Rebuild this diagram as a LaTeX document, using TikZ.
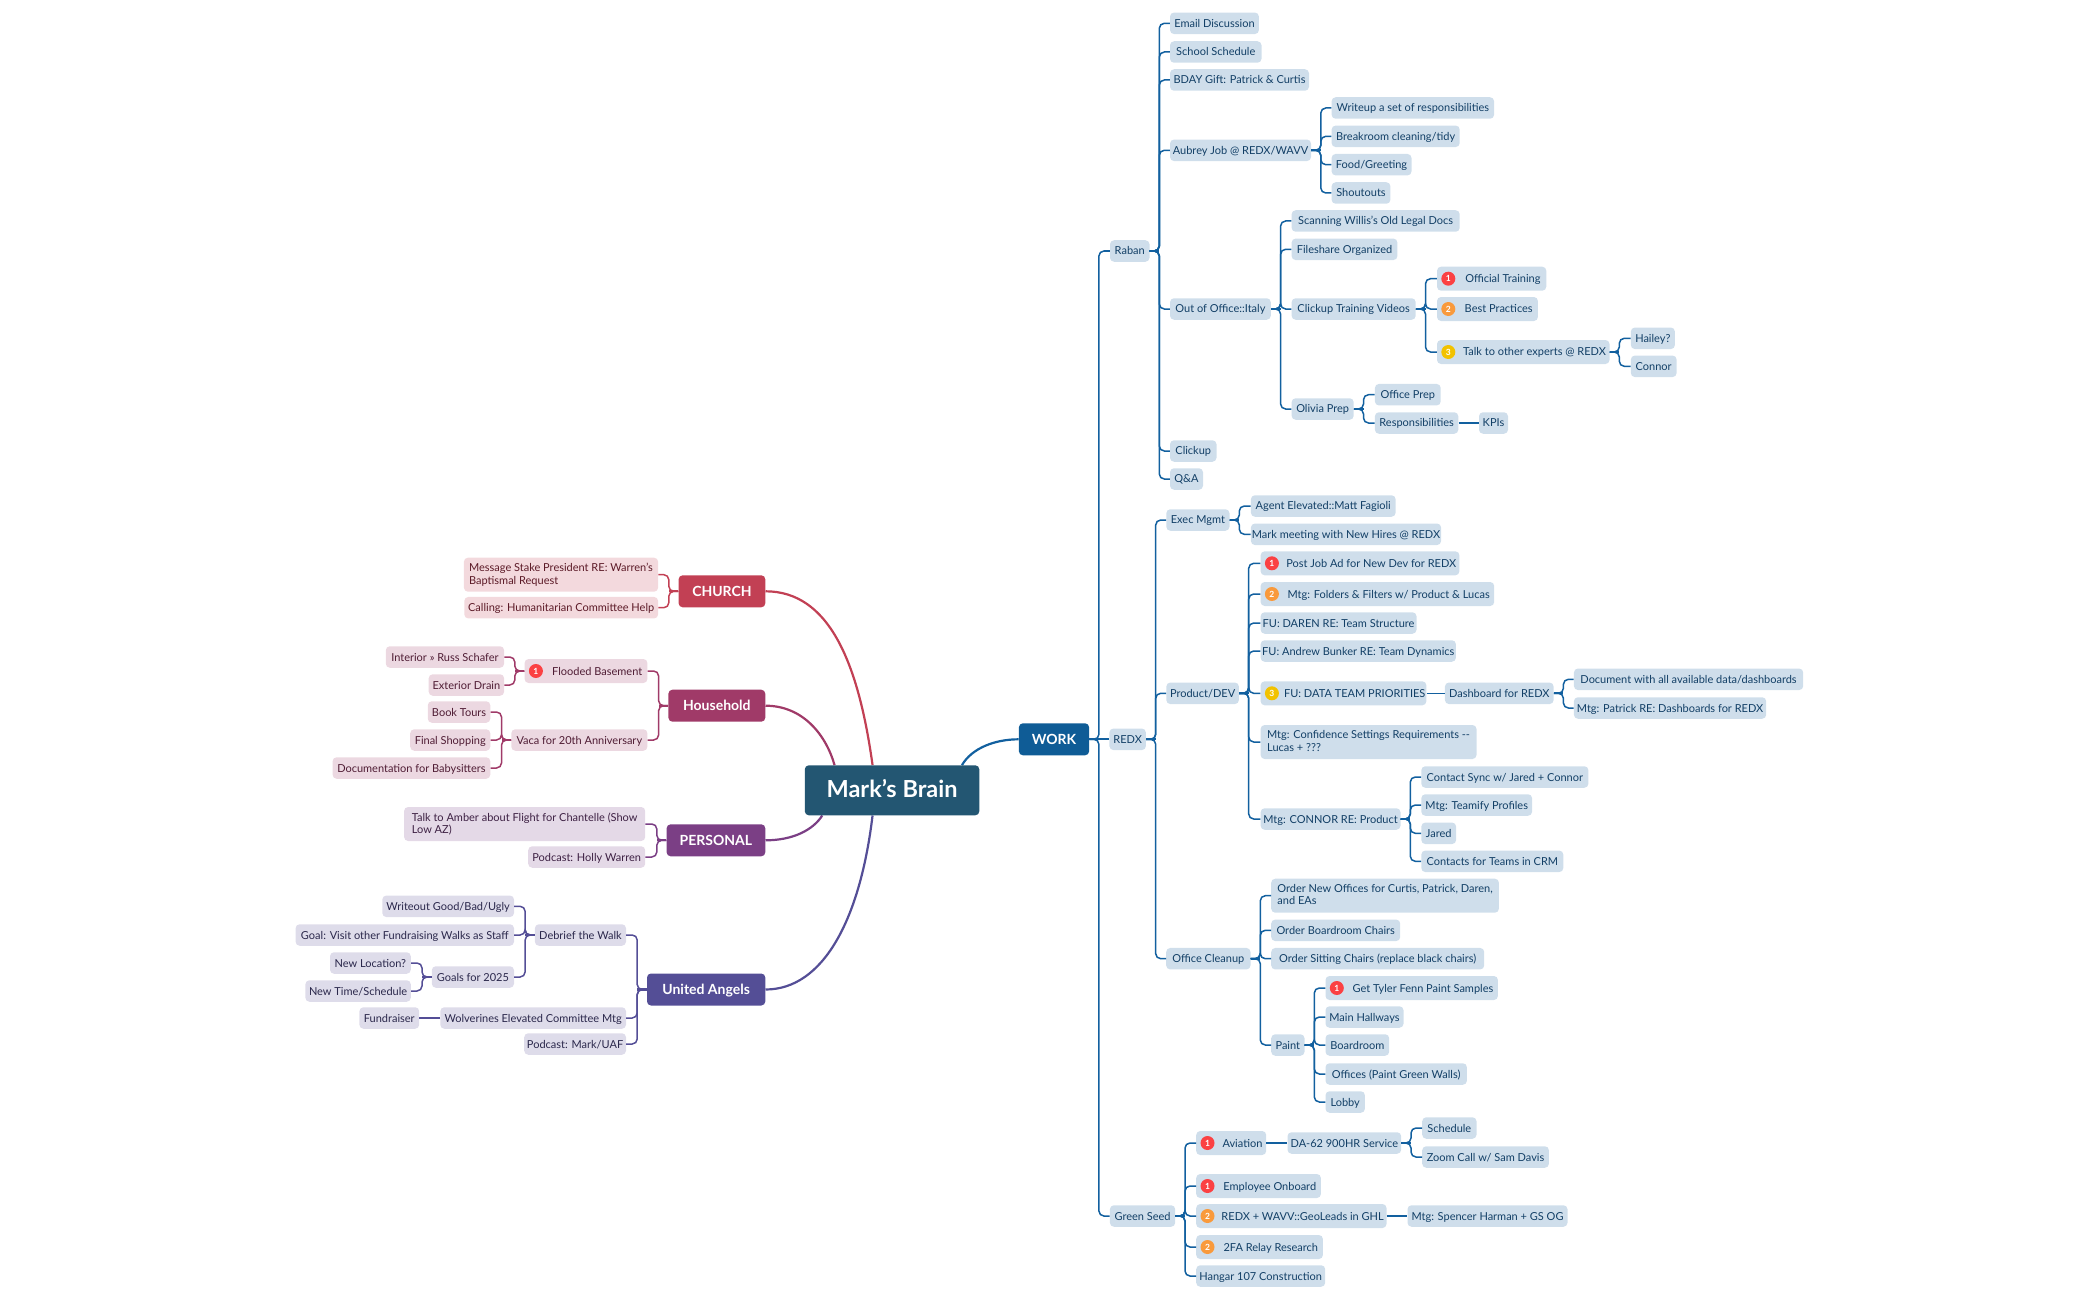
\documentclass[tikz,border=0pt]{standalone}
\usepackage{fontspec}
\setmainfont{Lato}
\usetikzlibrary{backgrounds}

\definecolor{rootfill}{HTML}{235672}
\definecolor{workfill}{HTML}{0F5C96}
\definecolor{workleaf}{HTML}{CFDEEB}
\definecolor{worktext}{HTML}{123F66}
\definecolor{workline}{HTML}{12609F}
\definecolor{churchfill}{HTML}{C24054}
\definecolor{churchleaf}{HTML}{F3D9DD}
\definecolor{churchtext}{HTML}{5C1A27}
\definecolor{housefill}{HTML}{A03A68}
\definecolor{houseleaf}{HTML}{ECD8E1}
\definecolor{housetext}{HTML}{4F1C34}
\definecolor{personfill}{HTML}{7B3F85}
\definecolor{personleaf}{HTML}{E4D9E7}
\definecolor{persontext}{HTML}{3D2043}
\definecolor{angelfill}{HTML}{544E96}
\definecolor{angelleaf}{HTML}{DEDCEA}
\definecolor{angeltext}{HTML}{2A274B}
\definecolor{prioone}{HTML}{FB4143}
\definecolor{priotwo}{HTML}{F99A3C}
\definecolor{priothree}{HTML}{F2C200}

\tikzset{
    x=1pt, y=-1pt,
    leaf/.style={rectangle, rounded corners=4pt, inner xsep=1pt, inner ysep=0pt, minimum height=21.5pt,
        align=left, font=\fontsize{11}{12.3}\selectfont,
        execute at begin node={\rule{0pt}{10pt}}, execute at end node={\vphantom{g}}},
    w/.style={minimum width=#1pt},
    hi/.style={minimum height=#1pt},
    wk/.style={leaf, anchor=west, fill=workleaf, text=worktext},
    ch/.style={leaf, anchor=east, fill=churchleaf, text=churchtext},
    hh/.style={leaf, anchor=east, fill=houseleaf, text=housetext},
    pe/.style={leaf, anchor=east, fill=personleaf, text=persontext},
    ua/.style={leaf, anchor=east, fill=angelleaf, text=angeltext},
    maintopic/.style={rectangle, rounded corners=4pt, inner sep=0pt, minimum height=32pt, text=white,
        text height=10pt, text depth=0pt, font=\fontsize{14}{16}\selectfont\bfseries},
    roottopic/.style={maintopic, minimum height=50pt, fill=rootfill, text height=17pt, text depth=2pt,
        font=\fontsize{23.5}{28}\selectfont\bfseries},
    prioicon/.style={circle, inner sep=0pt, minimum size=14pt, text=white, font=\fontsize{8.5}{9}\selectfont\bfseries},
    twig/.style={draw=brcol, line width=1.5pt, rounded corners=5pt},
    stem/.style={draw=brcol, line width=2.2pt},
    arc/.style={line width=2.2pt},
}
\newcommand{\pad}{\hspace*{22.5pt}}
\newcommand{\kidsr}[2]{%
    \draw[stem] (#1.east) -- ++(9.6,0);
    \foreach \kid in {#2} \draw[twig] (#1.east) -- ++(9.6,0) |- (\kid.west);
}
\newcommand{\kidsl}[2]{%
    \draw[stem] (#1.west) -- ++(-9.6,0);
    \foreach \kid in {#2} \draw[twig] (#1.west) -- ++(-9.6,0) |- (\kid.east);
}

\begin{document}
\begin{tikzpicture}
    \useasboundingbox (0,0) rectangle (2099,1300);

    \node[roottopic, w=174.5] (brain) at (892.05,790.3) {Mark's Brain};

    % topics
    \node[maintopic, anchor=west, w=70.2, fill=workfill] (work) at (1018.7,739.3) {WORK};
    \node[maintopic, anchor=east, w=86.7, fill=churchfill] (church) at (765.5,591.3) {CHURCH};
    \node[maintopic, anchor=east, w=96.9, fill=housefill] (household) at (765.5,705.7) {Household};
    \node[maintopic, anchor=east, w=98.7, fill=personfill] (personal) at (765.5,840.3) {PERSONAL};
    \node[maintopic, anchor=east, w=118.3, fill=angelfill] (angels) at (765.5,989.5) {United Angels};

    % Raban
    \node[wk, w=39.5] (raban) at (1109.8,251) {Raban};
    \node[wk, w=88.9] (email) at (1169.8,23.3) {Email Discussion};
    \node[wk, w=91.5] (school) at (1169.8,52) {School Schedule};
    \node[wk, w=139] (bday) at (1169.8,80) {BDAY Gift: Patrick \& Curtis};
    \node[wk, w=141] (aubrey) at (1169.8,150.3) {Aubrey Job @ REDX/WAVV};
    \node[wk, w=162.5] (writeup) at (1331.4,108) {Writeup a set of responsibilities};
    \node[wk, w=128.1] (breakroom) at (1331.4,136.3) {Breakroom cleaning/tidy};
    \node[wk, w=79.9] (food) at (1331.4,164.7) {Food/Greeting};
    \node[wk, w=58.8] (shoutouts) at (1331.4,193) {Shoutouts};
    \node[wk, w=100.8] (outoffice) at (1169.8,309) {Out of Office::Italy};
    \node[wk, w=168.1] (scanning) at (1291.4,221) {Scanning Willis's Old Legal Docs};
    \node[wk, w=105.8] (fileshare) at (1291.4,249.3) {Fileshare Organized};
    \node[wk, w=124.1] (videos) at (1291.4,309) {Clickup Training Videos};
    \node[wk, w=109.3, hi=24] (official) at (1436.8,278.7) {\pad Official Training};
    \node[wk, w=100.9, hi=24] (practices) at (1436.8,309) {\pad Best Practices};
    \node[wk, w=172.5, hi=24] (experts) at (1436.8,352) {\pad Talk to other experts @ REDX};
    \node[wk, w=44.1] (hailey) at (1630.6,338.3) {Hailey?};
    \node[wk, w=45.8] (connor) at (1630.6,366.3) {Connor};
    \node[wk, w=62.1] (olivia) at (1291.4,409) {Olivia Prep};
    \node[wk, w=65.8] (officeprep) at (1374.7,394.7) {Office Prep};
    \node[wk, w=83.4] (resp) at (1374.7,423) {Responsibilities};
    \node[wk, w=29] (kpis) at (1478.8,423) {KPIs};
    \node[wk, w=46.5] (clickup) at (1169.8,451) {Clickup};
    \node[wk, w=33] (qa) at (1169.8,479) {Q\&A};

    % REDX
    \node[wk, w=36.5] (redx) at (1109.2,739.3) {REDX};
    \node[wk, w=63.2] (exec) at (1166.1,520) {Exec Mgmt};
    \node[wk, w=144.7] (agent) at (1250.7,506) {Agent Elevated::Matt Fagioli};
    \node[wk, w=189.6] (hires) at (1250.7,534.3) {Mark meeting with New Hires @ REDX};
    \node[wk, w=72.6] (product) at (1166.1,693.3) {Product/DEV};
    \node[wk, w=198.8, hi=24] (jobad) at (1260.4,563.3) {\pad Post Job Ad for New Dev for REDX};
    \node[wk, w=233.6, hi=24] (folders) at (1260.4,594) {\pad Mtg: Folders \& Filters w/ Product \& Lucas};
    \node[wk, w=155.9] (daren) at (1260.4,623) {FU: DAREN RE: Team Structure};
    \node[wk, w=195.3] (andrew) at (1260.4,651) {FU: Andrew Bunker RE: Team Dynamics};
    \node[wk, w=162.9, hi=24] (dataprio) at (1260.4,693.3) {\pad FU: DATA TEAM PRIORITIES};
    \node[wk, w=108.7] (dashboard) at (1444.7,693.3) {Dashboard for REDX};
    \node[wk, w=229.3] (alldata) at (1573.7,679.3) {Document with all available data/dashboards};
    \node[wk, w=192.3] (patrick) at (1573.7,708) {Mtg: Patrick RE: Dashboards for REDX};
    \node[wk, w=215.9, hi=34] (confidence) at (1260.4,742) {Mtg: Confidence Settings Requirements -{}-\\Lucas + ???};
    \node[wk, w=139.9] (connormtg) at (1260.4,819) {Mtg: CONNOR RE: Product};
    \node[wk, w=167.1] (sync) at (1421.1,777) {Contact Sync w/ Jared + Connor};
    \node[wk, w=110.8] (teamify) at (1421.1,805) {Mtg: Teamify Profiles};
    \node[wk, w=34.8] (jared) at (1421.1,833.3) {Jared};
    \node[wk, w=142] (crm) at (1421.1,861.3) {Contacts for Teams in CRM};
    \node[wk, w=84.3] (cleanup) at (1166,958.7) {Office Cleanup};
    \node[wk, w=227.7, hi=34] (offices) at (1271,895.7) {Order New Offices for Curtis, Patrick, Daren,\\and EAs};
    \node[wk, w=129] (boardchairs) at (1271,930.3) {Order Boardroom Chairs};
    \node[wk, w=213] (sitting) at (1271,958.7) {Order Sitting Chairs (replace black chairs)};
    \node[wk, w=33.3] (paint) at (1271,1045) {Paint};
    \node[wk, w=172.4, hi=24] (tyler) at (1325.3,988) {\pad Get Tyler Fenn Paint Samples};
    \node[wk, w=78] (hallways) at (1325.3,1017) {Main Hallways};
    \node[wk, w=63.7] (boardroom) at (1325.3,1045) {Boardroom};
    \node[wk, w=141.4] (greenwalls) at (1325.3,1074) {Offices (Paint Green Walls)};
    \node[wk, w=39.4] (lobby) at (1325.3,1102) {Lobby};

    % Green Seed
    \node[wk, w=65.3] (greenseed) at (1109.7,1216) {Green Seed};
    \node[wk, w=70, hi=24] (aviation) at (1196,1143) {\pad Aviation};
    \node[wk, w=113.7] (service) at (1287.3,1143) {DA-62 900HR Service};
    \node[wk, w=54.3] (schedule) at (1422,1128) {Schedule};
    \node[wk, w=126.7] (zoomcall) at (1422,1157) {Zoom Call w/ Sam Davis};
    \node[wk, w=124.7, hi=24] (onboard) at (1196,1186) {\pad Employee Onboard};
    \node[wk, w=190.3, hi=24] (geoleads) at (1196,1216) {\pad REDX + WAVV::GeoLeads in GHL};
    \node[wk, w=160] (spencer) at (1407.3,1216) {Mtg: Spencer Harman + GS OG};
    \node[wk, w=126.7, hi=24] (relay) at (1196,1247) {\pad 2FA Relay Research};
    \node[wk, w=129] (hangar) at (1196,1276) {Hangar 107 Construction};

    % CHURCH
    \node[ch, w=194.2, hi=34] (stake) at (658.3,574.7) {Message Stake President RE: Warren's\\Baptismal Request};
    \node[ch, w=193.8] (calling) at (658.3,607.7) {Calling: Humanitarian Committee Help};

    % Household
    \node[hh, w=122.8, hi=24] (flooded) at (647.6,671) {\pad Flooded Basement};
    \node[hh, w=118.3] (interior) at (504.3,657) {Interior » Russ Schafer};
    \node[hh, w=75.4] (exterior) at (504.3,685) {Exterior Drain};
    \node[hh, w=136.1] (vaca) at (647.6,740) {Vaca for 20th Anniversary};
    \node[hh, w=62.5] (tours) at (490.5,712) {Book Tours};
    \node[hh, w=80.1] (shopping) at (490.5,740) {Final Shopping};
    \node[hh, w=157.7] (sitters) at (490.5,768) {Documentation for Babysitters};

    % PERSONAL
    \node[pe, w=241.1, hi=34] (amber) at (645.4,824) {Talk to Amber about Flight for Chantelle (Show\\Low AZ)};
    \node[pe, w=117] (holly) at (645.4,857) {Podcast: Holly Warren};

    % United Angels
    \node[ua, w=91.1] (debrief) at (626.2,935) {Debrief the Walk};
    \node[ua, w=131.7] (writeout) at (514.2,906.3) {Writeout Good/Bad/Ugly};
    \node[ua, w=218.4] (staff) at (514.2,935) {Goal: Visit other Fundraising Walks as Staff};
    \node[ua, w=82.2] (goals) at (514.2,977) {Goals for 2025};
    \node[ua, w=80.8] (location) at (411,963) {New Location?};
    \node[ua, w=105.4] (newtime) at (411,991) {New Time/Schedule};
    \node[ua, w=185.7] (wolverines) at (626.2,1018) {Wolverines Elevated Committee Mtg};
    \node[ua, w=59.8] (fundraiser) at (419.4,1018) {Fundraiser};
    \node[ua, w=101.8] (uaf) at (626.2,1044) {Podcast: Mark/UAF};

    % priority marks
    \foreach \task/\col/\num in {official/prioone/1, practices/priotwo/2, experts/priothree/3,
        jobad/prioone/1, folders/priotwo/2, dataprio/priothree/3, tyler/prioone/1,
        aviation/prioone/1, onboard/prioone/1, geoleads/priotwo/2, relay/priotwo/2, flooded/prioone/1}
        \node[prioicon, fill=\col] (\task mark) at ([xshift=11.5pt]\task.west) {\num};

    % curved connectors
    \begin{scope}[on background layer]
        \draw[arc, draw=workline] (work.west) .. controls (995,739.3) and (972,748) .. ([xshift=69.9pt]brain.north);
        \draw[arc, draw=churchfill] (church.east) .. controls (828,591.3) and (858,660) .. ([xshift=-19.5pt]brain.north);
        \draw[arc, draw=housefill] (household.east) .. controls (803,705.7) and (826,735) .. ([xshift=-57.5pt]brain.north);
        \draw[arc, draw=personfill] (personal.east) .. controls (793,840.3) and (813,830) .. ([xshift=-69.8pt]brain.south);
        \draw[arc, draw=angelfill] (angels.east) .. controls (823,989.5) and (860,920) .. ([xshift=-19.5pt]brain.south);
    \end{scope}

    % work branches
    \begin{scope}
        \colorlet{brcol}{workline}
        \draw[stem] (work.east) -- (redx.west);
        \kidsr{work}{raban, greenseed}
        \kidsr{raban}{email, school, bday, aubrey, outoffice, clickup, qa}
        \kidsr{aubrey}{writeup, breakroom, food, shoutouts}
        \kidsr{outoffice}{scanning, fileshare, videos, olivia}
        \kidsr{videos}{official, practices, experts}
        \kidsr{experts}{hailey, connor}
        \kidsr{olivia}{officeprep, resp}
        \draw[twig] (resp.east) -- (kpis.west);
        \kidsr{redx}{exec, product, cleanup}
        \kidsr{exec}{agent, hires}
        \kidsr{product}{jobad, folders, daren, andrew, dataprio, confidence, connormtg}
        \draw[twig] (dataprio.east) -- (dashboard.west);
        \kidsr{dashboard}{alldata, patrick}
        \kidsr{connormtg}{sync, teamify, jared, crm}
        \kidsr{cleanup}{offices, boardchairs, sitting, paint}
        \kidsr{paint}{tyler, hallways, boardroom, greenwalls, lobby}
        \kidsr{greenseed}{aviation, onboard, geoleads, relay, hangar}
        \draw[twig] (aviation.east) -- (service.west);
        \kidsr{service}{schedule, zoomcall}
        \draw[twig] (geoleads.east) -- (spencer.west);
    \end{scope}

    % left branches
    \begin{scope}
        \colorlet{brcol}{churchfill}
        \kidsl{church}{stake, calling}
    \end{scope}
    \begin{scope}
        \colorlet{brcol}{housefill}
        \kidsl{household}{flooded, vaca}
        \kidsl{flooded}{interior, exterior}
        \kidsl{vaca}{tours, shopping, sitters}
    \end{scope}
    \begin{scope}
        \colorlet{brcol}{personfill}
        \kidsl{personal}{amber, holly}
    \end{scope}
    \begin{scope}
        \colorlet{brcol}{angelfill}
        \kidsl{angels}{debrief, wolverines, uaf}
        \kidsl{debrief}{writeout, staff, goals}
        \kidsl{goals}{location, newtime}
        \draw[twig] (wolverines.west) -- (fundraiser.east);
    \end{scope}
\end{tikzpicture}
\end{document}
